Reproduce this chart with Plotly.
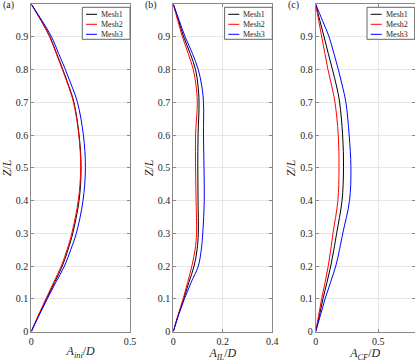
import plotly.graph_objects as go

# Z/L sample positions shared by every curve
z = [0, 0.05, 0.1, 0.15, 0.2, 0.25, 0.3, 0.4, 0.5, 0.6, 0.7, 0.75, 0.8, 0.85, 0.9, 0.95, 1]

# (a) A_ini/D
a_mesh1 = [0, 0.038, 0.077, 0.118, 0.157, 0.186, 0.21, 0.242, 0.252, 0.242, 0.216, 0.19, 0.16, 0.128, 0.095, 0.05, 0]
a_mesh2 = [0, 0.036, 0.074, 0.113, 0.152, 0.181, 0.205, 0.238, 0.25, 0.241, 0.214, 0.188, 0.158, 0.126, 0.093, 0.049, 0]
a_mesh3 = [0, 0.04, 0.081, 0.124, 0.168, 0.2, 0.228, 0.262, 0.274, 0.264, 0.234, 0.205, 0.173, 0.138, 0.103, 0.054, 0]

# (b) A_IL/D
b_mesh1 = [0, 0.02, 0.042, 0.063, 0.084, 0.096, 0.101, 0.1, 0.099, 0.1, 0.104, 0.1, 0.09, 0.068, 0.042, 0.021, 0]
b_mesh2 = [0, 0.019, 0.04, 0.058, 0.075, 0.088, 0.094, 0.092, 0.09, 0.09, 0.097, 0.092, 0.081, 0.06, 0.037, 0.018, 0]
b_mesh3 = [0, 0.021, 0.045, 0.072, 0.101, 0.113, 0.119, 0.125, 0.124, 0.122, 0.122, 0.115, 0.101, 0.077, 0.048, 0.024, 0]

# (c) A_CF/D
c_mesh1 = [0, 0.03, 0.058, 0.09, 0.12, 0.145, 0.167, 0.21, 0.222, 0.215, 0.191, 0.166, 0.134, 0.1, 0.067, 0.033, 0]
c_mesh2 = [0, 0.024, 0.047, 0.075, 0.1, 0.12, 0.138, 0.177, 0.186, 0.18, 0.154, 0.128, 0.098, 0.073, 0.048, 0.024, 0]
c_mesh3 = [0, 0.038, 0.075, 0.118, 0.16, 0.19, 0.216, 0.27, 0.281, 0.267, 0.241, 0.213, 0.181, 0.145, 0.107, 0.054, 0]

mesh_names = ["Mesh1", "Mesh2", "Mesh3"]
colors = ["#000000", "#ff0000", "#0000ff"]
panels = [
    ("(a)", "<i>A</i><sub><i>ini</i></sub>/<i>D</i>", [0, 0.5], [0, 0.5], [a_mesh1, a_mesh2, a_mesh3]),
    ("(b)", "<i>A</i><sub><i>IL</i></sub>/<i>D</i>", [0, 0.4], [0, 0.2, 0.4], [b_mesh1, b_mesh2, b_mesh3]),
    ("(c)", "<i>A</i><sub><i>CF</i></sub>/<i>D</i>", [0, 0.79], [0, 0.5], [c_mesh1, c_mesh2, c_mesh3]),
]

W, H = 415, 362
x_dom = [(31.3, 130.0), (173.3, 272.3), (315.7, 414.7)]
y_dom = [1 - 331.5 / H, 1 - 4.2 / H]

FONT = "Liberation Serif"
AX = "#8a8a8a"
TXT = "#262626"


def px_x(v):
    return v / W


def px_y(v):
    return 1 - v / H


fig = go.Figure()
layout = dict(
    width=W, height=H, margin=dict(l=0, r=0, t=0, b=0),
    paper_bgcolor="white", plot_bgcolor="white",
    font=dict(family=FONT, size=10, color=TXT),
    showlegend=False, annotations=[], shapes=[],
)

for i, (tag, xtitle, xr, xt, series) in enumerate(panels):
    n = "" if i == 0 else str(i + 1)
    for name, col, xs in zip(mesh_names, colors, series):
        fig.add_trace(go.Scatter(
            x=xs, y=z, mode="lines", name=name,
            line=dict(color=col, width=1, shape="spline"),
            xaxis="x" + n, yaxis="y" + n,
        ))
    common = dict(showline=True, linecolor=AX, linewidth=1, mirror="ticks",
                  ticks="inside", ticklen=3, tickcolor=AX,
                  showgrid=True, gridcolor="#e6e6e6", gridwidth=1,
                  zeroline=False, automargin=False,
                  tickfont=dict(family=FONT, size=10, color=TXT))
    layout["xaxis" + n] = dict(
        domain=[px_x(x_dom[i][0]), px_x(x_dom[i][1])], anchor="y" + n,
        range=xr, tickvals=xt, ticktext=[f"{v:g}" for v in xt],
        title=dict(text=xtitle, font=dict(family=FONT, size=12, color=TXT), standoff=1),
        **common)
    layout["yaxis" + n] = dict(
        domain=y_dom, anchor="x" + n, range=[0, 1], dtick=0.1,
        title=dict(text="<i>Z</i>/<i>L</i>", font=dict(family=FONT, size=12, color=TXT), standoff=1),
        **common)

    # panel tag
    layout["annotations"].append(dict(
        text=tag, xref="paper", yref="paper",
        x=px_x(x_dom[i][0] - 30), y=px_y(5), xanchor="left", yanchor="middle",
        showarrow=False, font=dict(family=FONT, size=10, color=TXT),
    ))

    # boxed legend in the top right corner of each panel
    R = x_dom[i][1]
    layout["shapes"].append(dict(
        type="rect", xref="paper", yref="paper",
        x0=px_x(R - 47.7), x1=px_x(R), y0=px_y(39.3), y1=px_y(7.3),
        line=dict(color="#666666", width=1), fillcolor="white", layer="above",
    ))
    for k, (name, col) in enumerate(zip(mesh_names, colors)):
        yc = 14.3 + 10 * k
        layout["shapes"].append(dict(
            type="line", xref="paper", yref="paper",
            x0=px_x(R - 44), x1=px_x(R - 33), y0=px_y(yc), y1=px_y(yc),
            line=dict(color=col, width=1), layer="above",
        ))
        layout["annotations"].append(dict(
            text=name, xref="paper", yref="paper",
            x=px_x(R - 31), y=px_y(yc), xanchor="left", yanchor="middle",
            showarrow=False, font=dict(family=FONT, size=8, color=TXT),
        ))

fig.update_layout(**layout)
fig.write_html("out.html", config={"displayModeBar": False},
               post_script="document.body.style.margin='0';")
